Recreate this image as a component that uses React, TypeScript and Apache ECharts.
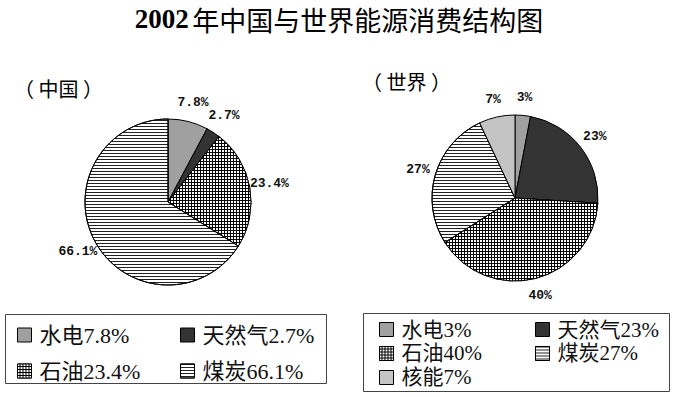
import React, { useEffect, useRef } from "react";
import * as echarts from "echarts";

const chinaNames = ["水电", "天然气", "石油", "煤炭"];
const chinaValues = [7.8, 2.7, 23.4, 66.1];
const worldNames = ["水电", "天然气", "石油", "煤炭", "核能"];
const worldValues = [3, 23, 40, 27, 7];

const styles: Record<string, any> = {
  水电: { color: "#a0a0a0" },
  天然气: { color: "#333333" },
  石油: {
    color: "#000000",
    decal: { symbol: "rect", color: "#ffffff", dashArrayX: [2, 1], dashArrayY: [2, 1], symbolSize: 1, rotation: 0 },
  },
  煤炭: {
    color: "#ffffff",
    decal: { symbol: "rect", color: "#222222", dashArrayX: [1, 0], dashArrayY: [1, 2], symbolSize: 1, rotation: 0 },
  },
  核能: { color: "#c4c4c4" },
};

const legendFont = "Liberation Serif, Noto Sans CJK SC, serif";

export default function App() {
  const ref = useRef<HTMLDivElement>(null);
  useEffect(() => {
    const chart = echarts.init(ref.current!, undefined, { renderer: "svg" });
    const mk = (names: string[], values: number[], key: string) =>
      names.map((n, i) => ({
        name: n + values[i] + "%" + key,
        value: values[i],
        itemStyle: { ...styles[n], borderColor: "#000", borderWidth: 1 },
      }));
    const chinaData = mk(chinaNames, chinaValues, "");
    const worldData = mk(worldNames, worldValues, " ");
    const ghost = (values: number[], center: [number, number], key: string, radius: [number, number]) => ({
      type: "pie",
      center,
      radius,
      silent: true,
      clockwise: true,
      startAngle: 90,
      data: values.map((v, i) => ({ name: "g" + key + i, value: v })),
      itemStyle: { color: "rgba(0,0,0,0)" },
      label: {
        show: true,
        position: "inside",
        formatter: "{c}%",
        fontFamily: "Liberation Mono, monospace",
        fontSize: 13,
        fontWeight: "bold",
        color: "#111",
      },
      labelLine: { show: false },
    });
    const mainPie = (data: any[], center: [number, number]) => ({
      type: "pie",
      center,
      radius: 83,
      startAngle: 90,
      clockwise: true,
      data,
      label: { show: false },
      labelLine: { show: false },
      emphasis: { disabled: true },
    });
    const legendBase = (fontSize: number) => ({
      orient: "vertical",
      icon: "rect",
      itemWidth: 14,
      itemHeight: 14,
      padding: 0,
      selectedMode: false,
      itemStyle: { borderColor: "#000", borderWidth: 1 },
      textStyle: {
        fontFamily: legendFont,
        fontSize,
        lineHeight: 20,
        color: "#111",
        padding: [0, 0, 0, 3],
      },
    });
    const fmt = (name: string) => name.trim();
    chart.setOption({
      animation: false,
      backgroundColor: "#fff",
      series: [
        mainPie(chinaData, [168, 202]),
        mainPie(worldData, [515, 198]),
        ghost(chinaValues, [168, 202], "c", [88, 112]),
        ghost(worldValues, [515, 198], "w", [86, 110]),
      ],
      legend: [
        { ...legendBase(22), left: 17, top: 324, itemGap: 14, formatter: fmt, data: [chinaData[0].name, chinaData[2].name] },
        { ...legendBase(22), left: 180, top: 324, itemGap: 14, formatter: fmt, data: [chinaData[1].name, chinaData[3].name] },
        { ...legendBase(21), left: 379, top: 319, itemGap: 3, formatter: fmt, data: [worldData[0].name, worldData[2].name, worldData[4].name] },
        { ...legendBase(21), left: 535, top: 319, itemGap: 3, formatter: fmt, data: [worldData[1].name, worldData[3].name] },
      ],
      graphic: [
        {
          type: "text",
          x: 339,
          y: 19,
          style: {
            text: "{a|2002} {b|年中国与世界能源消费结构图}",
            align: "center",
            verticalAlign: "middle",
            rich: {
              a: { fontFamily: "Liberation Serif, serif", fontWeight: "bold", fontSize: 27, fill: "#000" },
              b: { fontFamily: "Noto Sans CJK SC, sans-serif", fontSize: 27, fill: "#000" },
            },
          },
        },
        {
          type: "text",
          x: 14,
          y: 88,
          style: {
            text: "（ 中国 ）",
            verticalAlign: "middle",
            fontFamily: "Noto Sans CJK SC, sans-serif",
            fontSize: 20,
            fill: "#000",
          },
        },
        {
          type: "text",
          x: 362,
          y: 81,
          style: {
            text: "（ 世界 ）",
            verticalAlign: "middle",
            fontFamily: "Noto Sans CJK SC, sans-serif",
            fontSize: 20,
            fill: "#000",
          },
        },
        {
          type: "rect",
          shape: { x: 5.5, y: 314.5, width: 321, height: 69 },
          style: { fill: "none", stroke: "#444", lineWidth: 1 },
        },
        {
          type: "rect",
          shape: { x: 363.5, y: 313.5, width: 306, height: 78 },
          style: { fill: "none", stroke: "#444", lineWidth: 1 },
        },
      ],
    });
    return () => chart.dispose();
  }, []);
  return <div ref={ref} style={{ width: 676, height: 397, position: "absolute", left: 0, top: 0 }} />;
}
